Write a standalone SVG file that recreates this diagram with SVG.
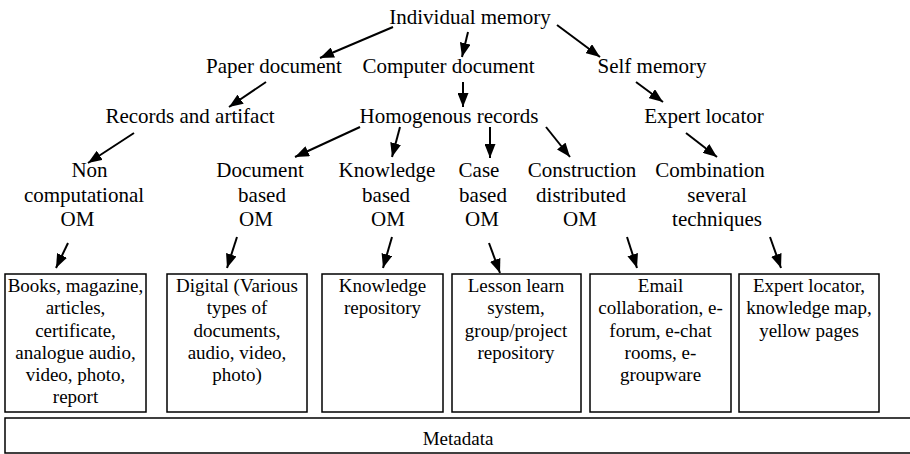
<svg xmlns="http://www.w3.org/2000/svg" width="910" height="454" viewBox="0 0 910 454" font-family="'Liberation Serif', 'Times New Roman', Times, serif">
<style>
text{font-family:'Liberation Serif','Times New Roman',Times,'Nimbus Roman',serif;fill:#000;text-anchor:middle}
.t{font-size:21px}
.b{font-size:19px}
.bx{fill:#fff;stroke:#000;stroke-width:1.5}
.c line{stroke:#000;stroke-width:2;marker-end:url(#ah)}
</style>
<defs>
<marker id="ah" markerUnits="userSpaceOnUse" markerWidth="15" markerHeight="11" refX="14" refY="5.5" orient="auto">
<path d="M0,0 L14,5.5 L0,11 z" fill="#000"/>
</marker>
</defs>
<rect width="910" height="454" fill="#fff"/>
<g id="n-individual"><text class="t" x="470" y="24">Individual memory</text></g>
<g id="n-paper"><text class="t" x="274" y="73">Paper document</text></g>
<g id="n-computer"><text class="t" x="448.5" y="73">Computer document</text></g>
<g id="n-self"><text class="t" x="652" y="73">Self memory</text></g>
<g id="n-records"><text class="t" x="190" y="123">Records and artifact</text></g>
<g id="n-homogenous"><text class="t" x="449" y="123">Homogenous records</text></g>
<g id="n-expert"><text class="t" x="704" y="123">Expert locator</text></g>
<g id="n-noncomp"><text class="t" x="89.5" y="177">Non</text><text class="t" x="84" y="201.5">computational</text><text class="t" x="77.5" y="226">OM</text></g>
<g id="n-docbased"><text class="t" x="260" y="177">Document</text><text class="t" x="262" y="201.5">based</text><text class="t" x="256" y="226">OM</text></g>
<g id="n-knowbased"><text class="t" x="387" y="177">Knowledge</text><text class="t" x="386" y="201.5">based</text><text class="t" x="388" y="226">OM</text></g>
<g id="n-casebased"><text class="t" x="479" y="177">Case</text><text class="t" x="483" y="201.5">based</text><text class="t" x="482" y="226">OM</text></g>
<g id="n-construction"><text class="t" x="582" y="177">Construction</text><text class="t" x="581" y="201.5">distributed</text><text class="t" x="580" y="226">OM</text></g>
<g id="n-combination"><text class="t" x="710" y="177">Combination</text><text class="t" x="717" y="201.5">several</text><text class="t" x="717" y="226">techniques</text></g>
<g id="box-books"><rect class="bx" x="5" y="274" width="141" height="138"/>
<text class="b" x="75.5" y="292">Books, magazine,</text><text class="b" x="75.5" y="314">articles,</text><text class="b" x="75.5" y="336.5">certificate,</text><text class="b" x="75.5" y="358.5">analogue audio,</text><text class="b" x="75.5" y="381">video, photo,</text><text class="b" x="75.5" y="403">report</text></g>
<g id="box-digital"><rect class="bx" x="167" y="274" width="140" height="138"/>
<text class="b" x="237" y="292">Digital (Various</text><text class="b" x="237" y="314">types of</text><text class="b" x="237" y="336.5">documents,</text><text class="b" x="237" y="358.5">audio, video,</text><text class="b" x="237" y="381">photo)</text></g>
<g id="box-knowrepo"><rect class="bx" x="322" y="274" width="121" height="138"/>
<text class="b" x="382.5" y="292">Knowledge</text><text class="b" x="382.5" y="314">repository</text></g>
<g id="box-lesson"><rect class="bx" x="452" y="274" width="129" height="138"/>
<text class="b" x="516" y="292">Lesson learn</text><text class="b" x="516" y="314">system,</text><text class="b" x="516" y="336.5">group/project</text><text class="b" x="516" y="358.5">repository</text></g>
<g id="box-email"><rect class="bx" x="590" y="274" width="141" height="138"/>
<text class="b" x="660.5" y="292">Email</text><text class="b" x="660.5" y="314">collaboration, e-</text><text class="b" x="660.5" y="336.5">forum, e-chat</text><text class="b" x="660.5" y="358.5">rooms, e-</text><text class="b" x="660.5" y="381">groupware</text></g>
<g id="box-expert"><rect class="bx" x="739" y="274" width="140" height="138"/>
<text class="b" x="809" y="292">Expert locator,</text><text class="b" x="809" y="314">knowledge map,</text><text class="b" x="809" y="336.5">yellow pages</text></g>
<g id="box-metadata"><rect class="bx" x="5" y="418" width="920" height="35"/>
<text class="b" x="458" y="445">Metadata</text></g>
<g id="connectors" class="c">
<line x1="393" y1="27" x2="320" y2="58"/>
<line x1="468" y1="32" x2="462" y2="57"/>
<line x1="557" y1="25" x2="600" y2="57"/>
<line x1="266" y1="82" x2="229" y2="107"/>
<line x1="463" y1="82" x2="463" y2="107"/>
<line x1="636" y1="82" x2="663" y2="102"/>
<line x1="134" y1="133" x2="88" y2="163"/>
<line x1="360" y1="127" x2="295" y2="157"/>
<line x1="400" y1="127" x2="392" y2="157"/>
<line x1="490" y1="127" x2="490" y2="158"/>
<line x1="546" y1="127" x2="570" y2="157"/>
<line x1="686" y1="133" x2="717" y2="157"/>
<line x1="68" y1="243" x2="56" y2="268"/>
<line x1="237" y1="237" x2="227" y2="268"/>
<line x1="392" y1="237" x2="383" y2="268"/>
<line x1="489" y1="243" x2="500" y2="273"/>
<line x1="627" y1="237" x2="637" y2="268"/>
<line x1="770" y1="237" x2="781" y2="268"/>
</g>
</svg>
